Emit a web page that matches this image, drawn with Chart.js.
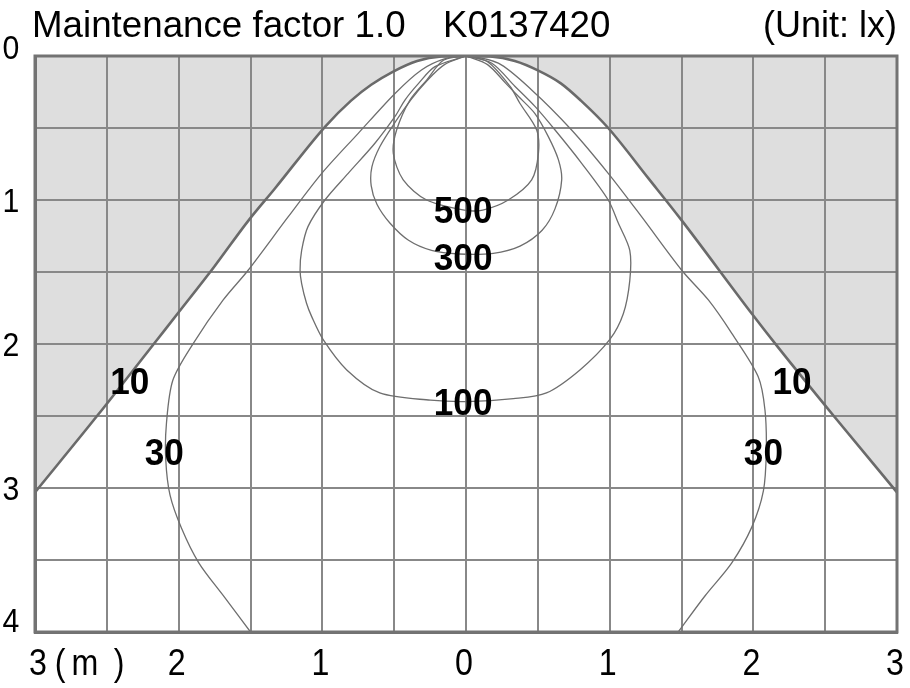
<!DOCTYPE html>
<html><head><meta charset="utf-8">
<script src="https://cdn.jsdelivr.net/npm/chart.js@4/dist/chart.umd.min.js"></script>
<style>html,body{margin:0;padding:0;background:#fff;} #c{display:block;}</style>
</head><body>
<canvas id="c" width="910" height="688"></canvas>
<script>
// ---- Data (illuminance contours, metres) ----
const contourLevels = ['10', '30', '100', '300', '500'];

const lux10X = [-3.0, -2.56, -2.15, -2.0, -1.75, -1.52, -1.33, -0.98, -0.80, -0.66, -0.51, -0.34, -0.17, 0, 0.17, 0.34, 0.50, 0.66, 0.80, 0.99, 1.27, 1.50, 1.99, 2.17, 2.56, 3.0];
const lux10Y = [3.03, 2.49, 1.97, 1.78, 1.46, 1.15, 0.92, 0.49, 0.31, 0.20, 0.11, 0.035, 0.004, 0, 0.004, 0.035, 0.10, 0.19, 0.31, 0.50, 0.85, 1.14, 1.79, 2.02, 2.50, 3.03];

const lux30X = [-1.50, -1.68, -1.86, -1.98, -2.06, -2.09, -2.085, -2.04, -1.898, -1.69, -1.515, -1.237, -1.004, -0.75, -0.494, -0.31, -0.15, 0, 0.225, 0.457, 0.735, 0.99, 1.222, 1.50, 1.687, 1.85, 2.034, 2.081, 2.09, 2.07, 1.99, 1.85, 1.663, 1.477];
const lux30Y = [4.0, 3.76, 3.52, 3.28, 3.05, 2.80, 2.55, 2.25, 1.995, 1.694, 1.486, 1.116, 0.815, 0.537, 0.26, 0.097, 0.02, 0, 0.05, 0.236, 0.514, 0.815, 1.116, 1.486, 1.694, 1.926, 2.227, 2.458, 2.75, 3.02, 3.27, 3.52, 3.75, 4.0];

const lux100X = [0, -0.216, -0.33, -0.425, -0.494, -0.634, -0.82, -0.982, -1.1, -1.144, -1.155, -1.144, -1.11, -1.074, -0.994, -0.83, -0.6, -0.248, 0.006, 0.33, 0.56, 0.793, 1.0, 1.095, 1.14, 1.14, 1.06, 0.99, 0.805, 0.62, 0.48, 0.34, 0.18, 0];
const lux100Y = [0, 0.074, 0.19, 0.306, 0.42, 0.606, 0.815, 1.0, 1.185, 1.35, 1.486, 1.58, 1.717, 1.81, 1.97, 2.18, 2.34, 2.39, 2.40, 2.38, 2.34, 2.18, 1.97, 1.79, 1.56, 1.35, 1.16, 1.0, 0.745, 0.514, 0.35, 0.21, 0.05, 0];

const lux300X = [0, -0.15, -0.27, -0.38, -0.50, -0.60, -0.655, -0.66, -0.62, -0.53, -0.40, -0.24, -0.05, 0.19, 0.376, 0.53, 0.62, 0.666, 0.643, 0.573, 0.48, 0.364, 0.277, 0.15, 0];
const lux300Y = [0, 0.06, 0.17, 0.30, 0.47, 0.63, 0.77, 0.90, 1.03, 1.16, 1.28, 1.35, 1.375, 1.37, 1.32, 1.21, 1.06, 0.86, 0.72, 0.56, 0.40, 0.28, 0.19, 0.06, 0];

const lux500X = [0, -0.157, -0.274, -0.39, -0.483, -0.506, -0.437, -0.274, -0.012, 0.116, 0.294, 0.457, 0.504, 0.492, 0.376, 0.306, 0.15, 0];
const lux500Y = [0, 0.03, 0.167, 0.306, 0.514, 0.676, 0.86, 1.0, 1.07, 1.07, 1.0, 0.86, 0.676, 0.514, 0.33, 0.21, 0.04, 0];

// contour label anchors (data coordinates)
const labelTexts = ['10', '30', '500', '300', '100', '10', '30'];
const labelX = [-2.34, -2.10, -0.02, -0.02, -0.02, 2.27, 2.07];
const labelY = [2.257, 2.747, 1.069, 1.394, 2.403, 2.257, 2.747];

const xTickValues = [-3, -2, -1, 0, 1, 2, 3];
const xTickLabels = ['3', '2', '1', '0', '1', '2', '3'];
const xUnitLabel = ['(', 'm', ')'];
const yTickValues = [0, 1, 2, 3, 4];
const yTickLabels = ['0', '1', '2', '3', '4'];
const titleText = 'Maintenance factor 1.0';
const modelText = 'K0137420';
const unitText = '(Unit: lx)';

// ---- build datasets ----
function pts(xs, ys) { return xs.map((x, i) => ({ x: x, y: ys[i] })); }
const lineColor = '#6e6e6e';
const datasets = [
  { label: contourLevels[0], data: pts(lux10X, lux10Y), borderColor: '#6a6a6a', borderWidth: 2.6,
    fill: { value: 0 }, backgroundColor: '#dedede', cubicInterpolationMode: 'monotone' },
  { label: contourLevels[1], data: pts(lux30X, lux30Y), borderColor: lineColor, borderWidth: 1.3, fill: false, tension: 0.3 },
  { label: contourLevels[2], data: pts(lux100X, lux100Y), borderColor: lineColor, borderWidth: 1.3, fill: false, tension: 0.3 },
  { label: contourLevels[3], data: pts(lux300X, lux300Y), borderColor: lineColor, borderWidth: 1.3, fill: false, tension: 0.3 },
  { label: contourLevels[4], data: pts(lux500X, lux500Y), borderColor: lineColor, borderWidth: 1.3, fill: false, tension: 0.3 }
];

const FONT = '"Liberation Sans", Arial, sans-serif';
function drawText(ctx, txt, cx, cy, size, weight, sx, align) {
  ctx.save();
  ctx.font = weight + ' ' + size + 'px ' + FONT;
  ctx.textBaseline = 'alphabetic';
  ctx.textAlign = align || 'center';
  ctx.fillStyle = '#000';
  ctx.translate(cx, cy + size * 0.716 / 2);
  ctx.scale(sx, 1);
  ctx.fillText(txt, 0, 0);
  ctx.restore();
}

const textPlugin = {
  id: 'texts',
  afterDraw(chart) {
    const ctx = chart.ctx;
    const xs = chart.scales.x, ys = chart.scales.y;
    // title
    drawText(ctx, titleText, 32, 24.5, 36, 'normal', 1.02, 'left');
    drawText(ctx, modelText, 443, 24.5, 36, 'normal', 1.02, 'left');
    drawText(ctx, unitText, 897, 24.5, 36, 'normal', 1.0, 'right');
    // x tick labels
    xTickValues.forEach((v, i) => {
      const px = xs.getPixelForValue(v) + (i === 0 ? 3 : -2);
      drawText(ctx, xTickLabels[i], px, 661.5, 37, 'normal', 0.87, 'center');
    });
    const x0 = xs.getPixelForValue(xTickValues[0]);
    drawText(ctx, xUnitLabel[0], x0 + 25, 661.5, 37, 'normal', 0.87, 'center');
    drawText(ctx, xUnitLabel[1], x0 + 50, 661.5, 37, 'normal', 0.87, 'center');
    drawText(ctx, xUnitLabel[2], x0 + 84, 661.5, 37, 'normal', 0.87, 'center');
    // y tick labels
    yTickValues.forEach((v, i) => {
      let py = ys.getPixelForValue(v);
      if (i === 0) py -= 9;
      else if (i === yTickValues.length - 1) py -= 12;
      drawText(ctx, yTickLabels[i], 11, py, 34, 'normal', 0.89, 'center');
    });
    // contour labels
    labelTexts.forEach((t, i) => {
      drawText(ctx, t, xs.getPixelForValue(labelX[i]), ys.getPixelForValue(labelY[i]), 37, 'bold', 0.95, 'center');
    });
  }
};

const frameColor = '#737373';
new Chart(document.getElementById('c'), {
  type: 'line',
  data: { datasets: datasets },
  options: {
    responsive: false,
    animation: false,
    devicePixelRatio: 1,
    layout: { padding: { left: 35, right: 13, top: 56, bottom: 56 } },
    elements: { point: { radius: 0, hoverRadius: 0 } },
    plugins: { legend: { display: false }, tooltip: { enabled: false }, title: { display: false },
      filler: { drawTime: 'beforeDraw' } },
    scales: {
      x: { type: 'linear', min: -3, max: 3,
        ticks: { display: false, stepSize: 0.5 },
        grid: { color: '#888888', lineWidth: 2, drawTicks: false },
        border: { display: true, color: frameColor, width: 3 } },
      y: { type: 'linear', min: 0, max: 4, reverse: true,
        ticks: { display: false, stepSize: 0.5 },
        grid: { color: '#888888', lineWidth: 2, drawTicks: false },
        border: { display: true, color: frameColor, width: 3 } }
    }
  },
  plugins: [textPlugin, {
    id: 'frame',
    afterDatasetsDraw(chart) {
      const { ctx, chartArea: a } = chart;
      ctx.save();
      ctx.strokeStyle = frameColor;
      ctx.lineWidth = 3;
      ctx.strokeRect(a.left, a.top, a.right - a.left, a.bottom - a.top);
      ctx.restore();
    }
  }]
});
</script>
</body></html>
